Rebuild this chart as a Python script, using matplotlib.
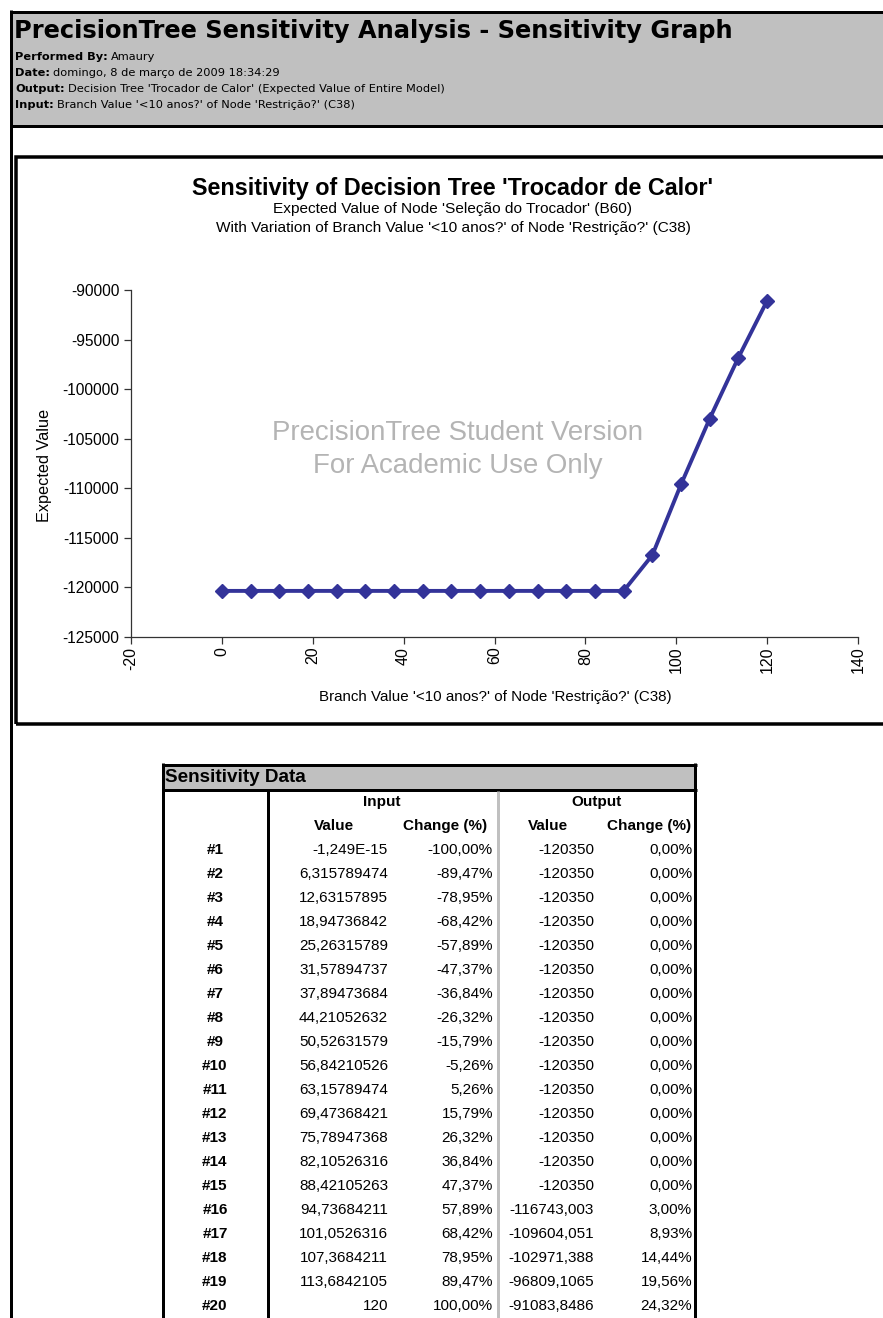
import matplotlib
matplotlib.use('Agg')
import matplotlib.pyplot as plt
from matplotlib.patches import Rectangle
from matplotlib.lines import Line2D

W, H = 883, 1318

# dados da tabela, como aparecem na planilha
row_labels = ['#1', '#2', '#3', '#4', '#5', '#6', '#7', '#8', '#9', '#10',
              '#11', '#12', '#13', '#14', '#15', '#16', '#17', '#18', '#19', '#20']
input_value = ['-1,249E-15', '6,315789474', '12,63157895', '18,94736842', '25,26315789',
               '31,57894737', '37,89473684', '44,21052632', '50,52631579', '56,84210526',
               '63,15789474', '69,47368421', '75,78947368', '82,10526316', '88,42105263',
               '94,73684211', '101,0526316', '107,3684211', '113,6842105', '120']
input_change = ['-100,00%', '-89,47%', '-78,95%', '-68,42%', '-57,89%', '-47,37%', '-36,84%',
                '-26,32%', '-15,79%', '-5,26%', '5,26%', '15,79%', '26,32%', '36,84%',
                '47,37%', '57,89%', '68,42%', '78,95%', '89,47%', '100,00%']
output_value = ['-120350', '-120350', '-120350', '-120350', '-120350', '-120350', '-120350',
                '-120350', '-120350', '-120350', '-120350', '-120350', '-120350', '-120350',
                '-120350', '-116743,003', '-109604,051', '-102971,388', '-96809,1065',
                '-91083,8486']
output_change = ['0,00%', '0,00%', '0,00%', '0,00%', '0,00%', '0,00%', '0,00%', '0,00%',
                 '0,00%', '0,00%', '0,00%', '0,00%', '0,00%', '0,00%', '0,00%', '3,00%',
                 '8,93%', '14,44%', '19,56%', '24,32%']

x_ticks = [-20, 0, 20, 40, 60, 80, 100, 120, 140]
y_ticks = [-125000, -120000, -115000, -110000, -105000, -100000, -95000, -90000]


def to_num(s):
    return float(s.replace(',', '.'))


def fx(x):
    return x / W


def fy(y):
    return 1 - y / H


fig = plt.figure(figsize=(W / 100, H / 100), dpi=100)
renderer = fig.canvas.get_renderer()
HEAD = 'DejaVu Sans'
ARIAL = 'Liberation Sans'
TAB = 11


def line(x0, y0, x1, y1, px=3, color='black'):
    fig.add_artist(Line2D([fx(x0), fx(x1)], [fy(y0), fy(y1)], transform=fig.transFigure,
                          lw=px * 0.72, color=color, solid_capstyle='butt'))


def txt(x, y, s, **kw):
    kw.setdefault('va', 'center')
    kw.setdefault('family', ARIAL)
    return fig.text(fx(x), fy(y), s, **kw)


# cabeçalho cinza
fig.add_artist(Rectangle((fx(10), fy(126)), fx(W) - fx(10), fy(11) - fy(126),
                         transform=fig.transFigure, facecolor='#c0c0c0', edgecolor='none'))
line(10, 11.5, W, 11.5)
line(10, 125.5, W, 125.5)
line(10.5, 10, 10.5, H)

txt(14, 31, 'PrecisionTree Sensitivity Analysis - Sensitivity Graph', family=HEAD,
    weight='bold', fontsize=17.4)

header_lines = [('Performed By:', 'Amaury'),
                ('Date:', 'domingo, 8 de março de 2009 18:34:29'),
                ('Output:', "Decision Tree 'Trocador de Calor' (Expected Value of Entire Model)"),
                ('Input:', "Branch Value '<10 anos?' of Node 'Restrição?' (C38)")]
for i, (b, n) in enumerate(header_lines):
    y = 57 + 16 * i
    t = txt(15, y, b, family=HEAD, weight='bold', fontsize=8.2)
    bb = t.get_window_extent(renderer)
    fig.text(bb.x1 / W + 3 / W, fy(y), n, va='center', family=HEAD, fontsize=8.2)

# caixa do gráfico
fig.add_artist(Rectangle((fx(16), fy(724)), fx(W + 10) - fx(16), fy(157) - fy(724),
                         transform=fig.transFigure, facecolor='none', edgecolor='black',
                         lw=3.5 * 0.72))

txt(453, 188, "Sensitivity of Decision Tree 'Trocador de Calor'", ha='center',
    weight='bold', fontsize=16.8)
txt(453, 209, "Expected Value of Node 'Seleção do Trocador' (B60)", ha='center', fontsize=11.1)
txt(453, 228, "With Variation of Branch Value '<10 anos?' of Node 'Restrição?' (C38)",
    ha='center', fontsize=11.1)

ax = fig.add_axes([fx(131), fy(637), fx(858) - fx(131), fy(290) - fy(637)])
ax.set_facecolor('none')
xs = [to_num(s) for s in input_value]
ys = [to_num(s) for s in output_value]
ax.plot(xs, ys, color='#333399', lw=2.8, marker='D', ms=7, zorder=3)
ax.set_xlim(-20, 140)
ax.set_ylim(-125000, -90000)
ax.set_xticks(x_ticks)
ax.set_yticks(y_ticks)
ax.set_xticklabels([str(v) for v in x_ticks], rotation=90, family=ARIAL, fontsize=11.5)
ax.set_yticklabels([str(v) for v in y_ticks], family=ARIAL, fontsize=11.2)
ax.spines['top'].set_visible(False)
ax.spines['right'].set_visible(False)
for s in ('left', 'bottom'):
    ax.spines[s].set_linewidth(0.9)
    ax.spines[s].set_color('#333333')
ax.tick_params(axis='both', direction='out', length=5, width=0.9, color='#333333')
ax.tick_params(axis='y', pad=3.5)
ax.tick_params(axis='x', pad=2)

txt(45, 465, 'Expected Value', ha='center', rotation=90, fontsize=11.7)
txt(495, 697, "Branch Value '<10 anos?' of Node 'Restrição?' (C38)", ha='center', fontsize=10.9)

txt(458, 433, 'PrecisionTree Student Version', ha='center', fontsize=19.9, color='#b4b4b4')
txt(458, 466, 'For Academic Use Only', ha='center', fontsize=19.9, color='#b4b4b4')

# tabela
fig.add_artist(Rectangle((fx(163), fy(789)), fx(695) - fx(163), fy(765) - fy(789),
                         transform=fig.transFigure, facecolor='#c0c0c0', edgecolor='none'))
line(161.5, 764.5, 696.5, 764.5)
line(161.5, 790, 696.5, 790)
line(163, 763, 163, H)
line(695, 763, 695, H)
line(268, 790, 268, H)
line(497.5, 791, 497.5, H, color='#c0c0c0')

txt(165, 777, 'Sensitivity Data', weight='bold', fontsize=13.6)
txt(382, 802, 'Input', ha='center', weight='bold', fontsize=TAB)
txt(597, 802, 'Output', ha='center', weight='bold', fontsize=TAB)
for cx, s in [(334, 'Value'), (445, 'Change (%)'), (548, 'Value'), (649, 'Change (%)')]:
    txt(cx, 826, s, ha='center', weight='bold', fontsize=TAB)

for i in range(len(row_labels)):
    y = 850 + 24 * i
    txt(215, y, row_labels[i], ha='center', weight='bold', fontsize=TAB)
    txt(388, y, input_value[i], ha='right', fontsize=TAB)
    txt(493, y, input_change[i], ha='right', fontsize=TAB)
    txt(594, y, output_value[i], ha='right', fontsize=TAB)
    txt(692, y, output_change[i], ha='right', fontsize=TAB)

fig.savefig('out.png', dpi=100)
